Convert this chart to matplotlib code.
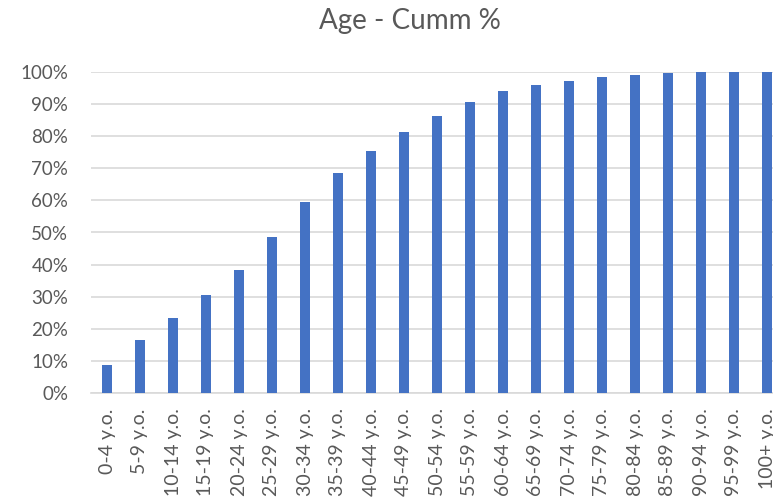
import matplotlib
matplotlib.use("Agg")
import matplotlib.pyplot as plt
from matplotlib.ticker import PercentFormatter

# Age groups and cumulative share of population
age_groups = ['0-4 y.o.', '5-9 y.o.', '10-14 y.o.', '15-19 y.o.', '20-24 y.o.',
              '25-29 y.o.', '30-34 y.o.', '35-39 y.o.', '40-44 y.o.', '45-49 y.o.',
              '50-54 y.o.', '55-59 y.o.', '60-64 y.o.', '65-69 y.o.', '70-74 y.o.',
              '75-79 y.o.', '80-84 y.o.', '85-89 y.o.', '90-94 y.o.', '95-99 y.o.',
              '100+ y.o.']
cumm_pct = [0.087, 0.165, 0.235, 0.305, 0.383, 0.487, 0.596, 0.684, 0.755, 0.813,
            0.864, 0.908, 0.941, 0.960, 0.972, 0.984, 0.991, 0.998, 1.0, 1.0, 1.0]
y_ticks = [i / 10 for i in range(11)]

plt.rcParams['font.family'] = ['Lato', 'DejaVu Sans']

W, H = 773, 498
fig = plt.figure(figsize=(W / 100, H / 100), dpi=100)

# plot area runs past the right edge of the image
left, right, top, bottom = 90.5, 783.5, 72, 393
ax = fig.add_axes([left / W, 1 - bottom / H, (right - left) / W, (bottom - top) / H])

x = range(len(age_groups))
ax.bar(x, cumm_pct, width=0.32, color='#4472C4', zorder=3)

ax.set_xlim(-0.5, len(age_groups) - 0.5)
ax.set_ylim(0, 1)
ax.set_yticks(y_ticks)
ax.yaxis.set_major_formatter(PercentFormatter(1.0, decimals=0))
ax.set_xticks(list(x))
ax.set_xticklabels(age_groups, rotation=90)

ax.grid(axis='y', color='#D9D9D9', linewidth=1.2, zorder=0)
for side in ['top', 'right', 'left']:
    ax.spines[side].set_visible(False)
ax.spines['bottom'].set_color('#D9D9D9')
ax.spines['bottom'].set_linewidth(1.2)
ax.tick_params(axis='both', length=0, labelcolor='#595959')
ax.tick_params(axis='y', pad=16, labelsize=13.5)
ax.tick_params(axis='x', pad=11, labelsize=14)

fig.text(410 / W, 1 - 21 / H, 'Age - Cumm %', ha='center', va='center',
         fontsize=20, color='#595959')

fig.savefig('out.png', dpi=100)
